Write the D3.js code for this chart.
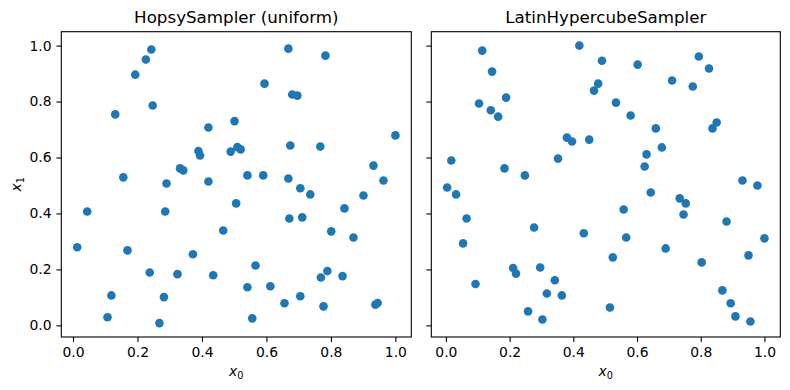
<!DOCTYPE html>
<html>
<head>
<meta charset="utf-8">
<script src="https://cdn.jsdelivr.net/npm/d3@7"></script>
<style>
  body { margin: 0; background: #fff; }
  text { font-family: "DejaVu Sans", sans-serif; fill: #000; }
</style>
</head>
<body>
<svg id="chart" width="790" height="390"></svg>
<script>
// values
const hopsyX = [0.013,0.044,0.107,0.119,0.131,0.156,0.169,0.193,0.226,0.243,0.247,0.238,0.268,0.282,0.286,0.290,
  0.324,0.332,0.342,0.372,0.389,0.394,0.420,0.420,0.435,0.466,0.489,0.501,0.510,0.520,0.506,0.541,
  0.541,0.556,0.566,0.590,0.594,0.612,0.656,0.668,0.668,0.671,0.674,0.680,0.696,0.705,0.705,0.711,
  0.736,0.767,0.769,0.777,0.783,0.789,0.801,0.836,0.842,0.870,0.901,0.932,0.938,0.945,0.963,1.000];
const hopsyY = [0.279,0.407,0.029,0.107,0.754,0.529,0.268,0.896,0.950,0.986,0.786,0.189,0.008,0.101,0.407,0.507,
  0.183,0.561,0.554,0.254,0.623,0.607,0.707,0.514,0.179,0.339,0.621,0.730,0.637,0.629,0.436,0.536,
  0.136,0.025,0.214,0.536,0.864,0.140,0.079,0.989,0.525,0.382,0.643,0.825,0.821,0.490,0.104,0.386,
  0.468,0.639,0.171,0.068,0.964,0.194,0.336,0.176,0.418,0.314,0.464,0.571,0.074,0.080,0.518,0.679];

const lhsX = [0.004,0.017,0.032,0.065,0.054,0.093,0.104,0.114,0.141,0.145,0.164,0.184,0.189,0.211,0.220,0.248,
  0.258,0.277,0.296,0.303,0.317,0.342,0.352,0.364,0.380,0.396,0.419,0.433,0.450,0.465,0.478,0.490,
  0.515,0.524,0.534,0.558,0.566,0.580,0.602,0.624,0.630,0.643,0.659,0.678,0.690,0.710,0.734,0.753,
  0.746,0.775,0.794,0.803,0.826,0.837,0.850,0.868,0.881,0.894,0.909,0.931,0.950,0.956,0.978,1.000];
const lhsY = [0.493,0.589,0.468,0.382,0.293,0.148,0.793,0.982,0.769,0.907,0.746,0.561,0.814,0.205,0.185,0.536,
  0.050,0.350,0.207,0.021,0.114,0.161,0.596,0.107,0.671,0.657,1.000,0.329,0.664,0.839,0.864,0.946,
  0.064,0.243,0.796,0.414,0.314,0.750,0.932,0.568,0.611,0.475,0.704,0.636,0.275,0.875,0.454,0.436,
  0.396,0.854,0.961,0.225,0.918,0.704,0.725,0.125,0.371,0.079,0.032,0.518,0.250,0.014,0.500,0.311];

const titles = ["HopsySampler (uniform)", "LatinHypercubeSampler"];
const tickValues = [0.0, 0.2, 0.4, 0.6, 0.8, 1.0];

const svg = d3.select("#chart");
const plotTop = 31.7, plotBottom = 337;
const panels = [
  {title: titles[0], xs: hopsyX, ys: hopsyY, left: 61.3, right: 411.3, ylabels: true},
  {title: titles[1], xs: lhsX, ys: lhsY, left: 431.3, right: 780.3, ylabels: false}
];

// matplotlib style 5% margin
function padded(ext){ var r = ext[1]-ext[0]; return [ext[0]-0.05*r, ext[1]+0.05*r]; }

const yScale = d3.scaleLinear()
  .domain(padded(d3.extent(hopsyY.concat(lhsY))))
  .range([plotBottom, plotTop]);

const fs = 13.9, tickLen = 4.9, tickPad = 4.9;

for (var p of panels){
  var xScale = d3.scaleLinear().domain(padded(d3.extent(p.xs))).range([p.left, p.right]);
  var g = svg.append("g");

  var xa = g.append("g").attr("transform", "translate(0," + plotBottom + ")")
    .call(d3.axisBottom(xScale).tickValues(tickValues).tickSize(tickLen).tickPadding(tickPad)
      .tickFormat(d3.format(".1f")));
  var ya = g.append("g").attr("transform", "translate(" + p.left + ",0)")
    .call(d3.axisLeft(yScale).tickValues(tickValues).tickSize(tickLen).tickPadding(tickPad)
      .tickFormat(p.ylabels ? d3.format(".1f") : ""));
  for (var a of [xa, ya]){
    a.select(".domain").remove();
    a.attr("font-size", fs).attr("font-family", "DejaVu Sans");
    a.selectAll("line").attr("stroke", "#000").attr("stroke-width", 1.1);
    a.selectAll("text").attr("fill", "#000");
  }

  var pts = p.xs.map(function(d, i){ return {x: d, y: p.ys[i]}; });
  g.append("g").selectAll("circle").data(pts).enter().append("circle")
    .attr("cx", function(d){ return xScale(d.x); })
    .attr("cy", function(d){ return yScale(d.y); })
    .attr("r", 4.3)
    .attr("fill", "#1f77b4");

  g.append("rect")
    .attr("x", p.left).attr("y", plotTop)
    .attr("width", p.right - p.left).attr("height", plotBottom - plotTop)
    .attr("fill", "none").attr("stroke", "#000").attr("stroke-width", 1.1);

  g.append("text")
    .attr("x", (p.left + p.right)/2).attr("y", plotTop - 8.5)
    .attr("text-anchor", "middle").attr("font-size", 16.7)
    .text(p.title);

  var xl = g.append("text")
    .attr("x", (p.left + p.right)/2).attr("y", 376)
    .attr("text-anchor", "middle").attr("font-size", fs);
  xl.append("tspan").attr("font-style", "italic").text("x");
  xl.append("tspan").attr("font-size", fs*0.7).attr("dy", 3).text("0");

  if (p.ylabels){
    var yl = g.append("text")
      .attr("transform", "translate(21," + ((plotTop + plotBottom)/2) + ") rotate(-90)")
      .attr("text-anchor", "middle").attr("font-size", fs);
    yl.append("tspan").attr("font-style", "italic").text("x");
    yl.append("tspan").attr("font-size", fs*0.7).attr("dy", 3).text("1");
  }
}
</script>
</body>
</html>
